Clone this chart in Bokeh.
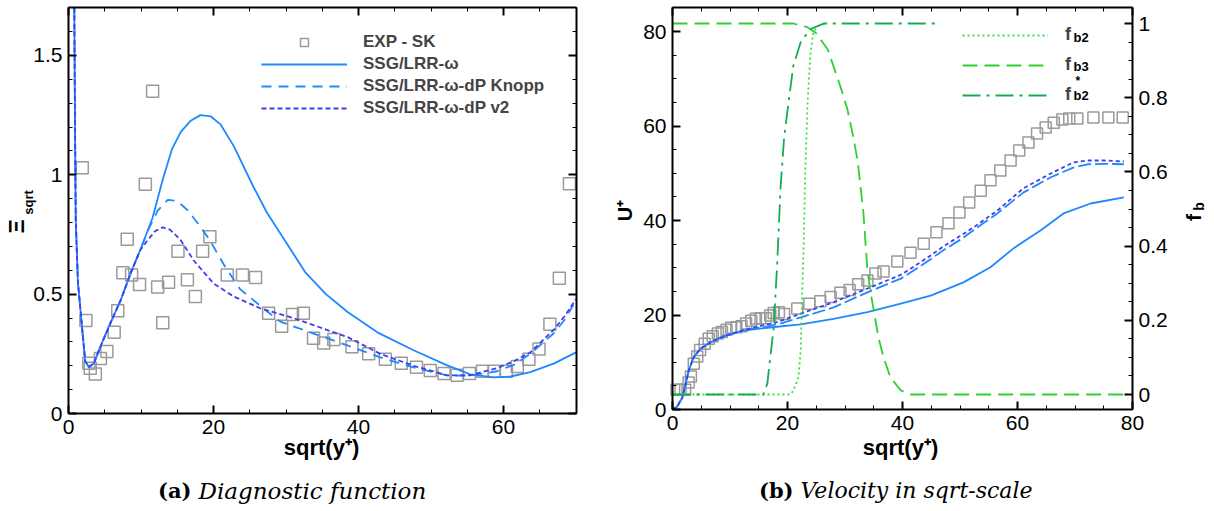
import math
from bokeh.plotting import figure
from bokeh.models import Range1d, LinearAxis, Legend, LegendItem, Label, FixedTicker
from bokeh.layouts import row
from bokeh.embed import file_html
from bokeh.resources import INLINE

# ---------------- (a) Diagnostic function ----------------
exp_a_x = [1.9, 2.4, 2.8, 3.0, 3.7, 4.4, 5.3, 6.3, 6.8, 7.5, 8.1, 8.7, 9.8, 10.6, 11.6, 12.3, 13.0, 13.8,
           15.1, 16.4, 17.5, 18.5, 19.5, 21.9, 24.0, 25.8, 27.6, 29.4, 30.9, 32.4, 33.8, 35.2, 36.6, 39.1,
           41.4, 43.7, 45.9, 48.0, 49.9, 51.8, 53.6, 55.3, 57.1, 58.7, 60.4, 61.9, 63.5, 64.9, 66.4, 67.7, 69.1]
exp_a_y = [1.03, 0.39, 0.21, 0.19, 0.165, 0.23, 0.26, 0.34, 0.43, 0.59, 0.73, 0.58, 0.54, 0.96, 1.35, 0.53,
           0.38, 0.55, 0.68, 0.56, 0.49, 0.68, 0.74, 0.58, 0.58, 0.57, 0.42, 0.365, 0.415, 0.42, 0.315, 0.295,
           0.31, 0.28, 0.25, 0.227, 0.21, 0.194, 0.18, 0.168, 0.16, 0.168, 0.177, 0.177, 0.177, 0.197, 0.227,
           0.27, 0.374, 0.567, 0.962]

ssg_a_x = [0.8, 0.9, 1.0, 1.3, 1.9, 2.3, 2.8, 3.5, 4.4, 5.8, 7.2, 8.6, 9.9, 11.6, 13.0, 14.3, 15.5, 16.8,
           18.2, 19.6, 21.0, 22.8, 25.5, 27.4, 29.2, 32.7, 35.5, 38.5, 42.6, 47.6, 52.0, 55.4, 58.6, 61.0,
           63.7, 67.0, 70.0]
ssg_a_y = [1.70, 1.2, 0.81, 0.55, 0.35, 0.22, 0.195, 0.21, 0.28, 0.38, 0.475, 0.59, 0.685, 0.82, 0.98, 1.11,
           1.18, 1.225, 1.25, 1.245, 1.21, 1.12, 0.95, 0.84, 0.755, 0.59, 0.50, 0.425, 0.34, 0.265, 0.205,
           0.164, 0.151, 0.155, 0.173, 0.21, 0.256]

knopp_a_x = [0.8, 0.9, 1.0, 1.3, 1.9, 2.3, 2.8, 3.5, 4.4, 5.8, 7.2, 8.6, 9.9, 11.0, 12.3, 13.7, 15.0, 16.5,
             18.0, 19.4, 21.5, 23.7, 25.5, 27.5, 29.2, 31.5, 33.8, 38.5, 43.0, 47.6, 52.2, 55.4, 59.1, 61.5,
             63.7, 66.9, 68.5, 70.0]
knopp_a_y = [1.70, 1.2, 0.81, 0.55, 0.35, 0.22, 0.195, 0.21, 0.28, 0.38, 0.475, 0.59, 0.685, 0.77, 0.85,
             0.895, 0.89, 0.85, 0.79, 0.73, 0.62, 0.52, 0.475, 0.425, 0.385, 0.36, 0.335, 0.285, 0.235, 0.193,
             0.16, 0.158, 0.177, 0.205, 0.25, 0.335, 0.395, 0.475]

v2_a_x = [0.8, 0.9, 1.0, 1.3, 1.9, 2.3, 2.8, 3.5, 4.4, 5.8, 7.2, 8.6, 9.9, 11.0, 12.0, 13.0, 14.0, 15.4,
          17.3, 20.0, 22.8, 26.5, 31.0, 33.8, 38.5, 43.0, 47.6, 52.2, 55.4, 59.1, 61.5, 63.7, 66.9, 68.5, 70.0]
v2_a_y = [1.70, 1.2, 0.81, 0.55, 0.35, 0.22, 0.195, 0.21, 0.28, 0.38, 0.475, 0.59, 0.685, 0.73, 0.765, 0.78,
          0.77, 0.73, 0.64, 0.545, 0.49, 0.44, 0.40, 0.37, 0.32, 0.25, 0.2, 0.16, 0.16, 0.19, 0.22, 0.256,
          0.35, 0.41, 0.48]

legend_a = ["EXP - SK", "SSG/LRR-\u03c9", "SSG/LRR-\u03c9-dP Knopp", "SSG/LRR-\u03c9-dP v2"]

# ---------------- (b) Velocity in sqrt-scale ----------------
exp_b_x = [0.7, 1.4, 2.2, 2.8, 3.2, 3.7, 4.3, 4.8, 5.6, 6.3, 7.0, 7.9, 8.6, 9.4, 10.2, 11.1, 12.0, 12.8,
           13.7, 14.5, 15.3, 16.2, 17.0, 17.6, 18.5, 19.4, 21.7, 23.8, 25.7, 27.5, 29.2, 30.8, 32.3, 33.9,
           35.3, 36.7, 39.1, 41.4, 43.7, 45.9, 48.0, 49.9, 51.6, 53.6, 55.3, 57.0, 58.8, 60.3, 61.9, 63.4,
           64.9, 66.3, 67.8, 69.0, 70.4, 73.2, 75.8, 78.3]
exp_b_u = [4.2, 4.2, 4.2, 5.7, 7.0, 9.7, 11.2, 12.6, 13.9, 15.0, 15.5, 16.1, 16.4, 16.9, 17.3, 17.4, 17.6,
           18.2, 18.8, 19.2, 19.3, 19.3, 19.9, 20.4, 20.6, 20.2, 21.4, 22.4, 22.9, 23.8, 24.7, 25.3, 26.5,
           27.3, 28.8, 29.2, 31.3, 33.2, 35.1, 37.5, 39.4, 41.7, 43.8, 46.3, 48.5, 50.6, 52.7, 54.8, 56.5,
           58.4, 59.7, 60.7, 61.4, 61.6, 61.6, 61.8, 61.8, 61.8]

ssg_b_x = [0, 0.8, 1.7, 2.3, 2.8, 3.7, 4.9, 6.6, 8.9, 12.3, 16.5, 22.3, 28.0, 33.9, 39.7, 44.9, 50.6, 55.3,
           59.3, 64.0, 68.0, 72.7, 78.5]
ssg_b_u = [0, 0.6, 2.5, 5.5, 8.2, 11.1, 12.9, 14.2, 15.5, 16.7, 17.3, 18.0, 19.2, 20.6, 22.4, 24.1, 26.9,
           30.1, 34.1, 37.9, 41.5, 43.6, 44.9]

knopp_b_x = [0, 0.8, 1.7, 2.3, 2.8, 3.7, 4.9, 6.6, 8.9, 12.3, 16.5, 19.0, 22.3, 28.0, 33.9, 39.7, 41.4,
             44.3, 47.1, 50.0, 52.3, 56.5, 61.0, 65.7, 69.7, 72.2, 75.0, 78.5]
knopp_b_u = [0, 0.6, 2.5, 5.5, 8.2, 11.1, 12.9, 14.2, 15.5, 16.7, 17.6, 18.3, 19.5, 21.6, 24.8, 27.7, 29.0,
             31.3, 33.7, 35.9, 37.9, 41.5, 45.9, 49.1, 51.2, 51.9, 52.0, 51.9]

v2_b_x = [0, 0.8, 1.7, 2.3, 2.8, 3.7, 4.9, 6.6, 8.9, 12.3, 15.0, 18.2, 22.3, 28.0, 33.9, 39.7, 41.4, 44.3,
          47.1, 50.0, 52.3, 56.5, 61.0, 65.7, 69.7, 72.2, 75.0, 78.5]
v2_b_u = [0, 0.6, 2.5, 5.5, 8.2, 11.1, 12.9, 14.2, 15.5, 16.8, 17.6, 18.5, 20.3, 22.7, 25.6, 28.5, 29.8,
          32.1, 34.5, 36.7, 38.5, 42.1, 46.8, 49.9, 52.3, 52.7, 52.7, 52.5]

fb2_x = [0, 20.5, 21.0, 21.9, 22.3, 22.6, 22.8, 23.1, 23.5, 24.0, 24.5, 25.5, 27.0]
fb2_y = [0, 0, 0.01, 0.046, 0.12, 0.3, 0.4, 0.61, 0.79, 0.92, 0.978, 0.995, 1.0]

fb3_x = [0, 20.0, 21.0, 23.5, 24.9, 27.0, 28.0, 29.2, 30.4, 31.3, 32.2, 32.7, 33.2, 33.6, 33.9, 34.4, 35.0,
         35.8, 36.7, 37.9, 39.7, 41.4, 78.5]
fb3_y = [1, 1, 1.0, 0.99, 0.975, 0.93, 0.885, 0.83, 0.77, 0.705, 0.63, 0.56, 0.49, 0.40, 0.335, 0.28, 0.227,
         0.155, 0.10, 0.046, 0.011, 0.0, 0.0]

# visible part of f_b2* (it disappears behind the legend near x = 46)
fb2s_x = [0, 15.8, 16.5, 17.0, 17.6, 18.2, 18.8, 19.4, 20.2, 21.0, 22.3, 24.0, 26.3, 45.7]
fb2s_y = [0, 0, 0.03, 0.1, 0.18, 0.35, 0.56, 0.69, 0.79, 0.885, 0.95, 0.985, 1.0, 1.0]

# tick values
xa_ticks = [0, 20, 40, 60]
ya_ticks = [0, 0.5, 1, 1.5]
ya_labels = ["0", "0.5", "1", "1.5"]
xb_ticks = [0, 20, 40, 60, 80]
ub_ticks = [0, 20, 40, 60, 80]
fb_ticks = [0, 0.2, 0.4, 0.6, 0.8, 1.0]
fb_labels = ["0", "0.2", "0.4", "0.6", "0.8", "1"]

# ---------------- styling ----------------
SANS = "Liberation Sans"
SERIF = "DejaVu Serif"
BLUE = "#1E88FF"
VIOLET = "#3F3FEF"
GRAY = "#9A9A9A"
G_DOT = "#3ADF3A"
G_DASH = "#2ED12E"
G_DD = "#12AD55"
H = 508
W1, W2 = 612, 600

# page-pixel <-> data helpers (plot box geometry of the reference)
ax_ = lambda px: (px - 68) / 7.25
ay_ = lambda py: (413 - py) / 238.7
bx_ = lambda px: (px - 672) / 5.75
by_ = lambda py: (409 - py) / 4.725
bf_ = lambda py: (394 - py) / 371.0

XA_MAX, YA_MAX = 70, ay_(7)
XB_MAX, UB_MAX = 80, by_(7)


def make_fig(width, xr, yr):
    p = figure(width=width, height=H, x_range=Range1d(*xr), y_range=Range1d(*yr),
               output_backend="svg", toolbar_location=None, min_border=0,
               min_border_left=0, min_border_right=0, min_border_bottom=0, min_border_top=0)
    p.xaxis.visible = False
    p.yaxis.visible = False
    p.xgrid.visible = False
    p.ygrid.visible = False
    p.outline_line_color = None
    p.background_fill_color = "white"
    p.border_fill_color = "white"
    return p


def add_axis(p, side, ticker, loc, bounds, labels=True, overrides=None, yr="default"):
    ax = LinearAxis(ticker=ticker, fixed_location=loc, bounds=bounds, y_range_name=yr)
    ax.major_tick_in = 8
    ax.major_tick_out = 0
    ax.minor_tick_in = 4
    ax.minor_tick_out = 0
    ax.axis_line_color = "black"
    ax.axis_line_width = 2
    ax.major_tick_line_width = 2
    ax.minor_tick_line_width = 1
    ax.major_tick_line_color = "black"
    ax.minor_tick_line_color = "black"
    ax.major_label_text_font = SANS
    ax.major_label_text_color = "black"
    ax.major_label_text_font_size = "21px"
    ax.major_label_standoff = 6
    if not labels:
        ax.major_label_text_alpha = 0.0
        ax.major_label_overrides = {t: "" for t in ticker.ticks}
    elif overrides:
        ax.major_label_overrides = overrides
    p.add_layout(ax, side)
    return ax


def lab(p, x, y, text, size, fstyle="bold", angle=0.0, align="center", baseline="middle",
        font=SANS, yr="default"):
    p.add_layout(Label(x=x, y=y, text=text, text_font=font, text_font_size=f"{size}px",
                       text_font_style=fstyle, angle=angle, text_align=align,
                       text_baseline=baseline, text_color="black", y_range_name=yr))


def minor(start, stop, step):
    n = int(round((stop - start) / step))
    return [round(start + i * step, 4) for i in range(n + 1)]


# ================= figure (a) =================
p1 = make_fig(W1, (ax_(0), ax_(W1)), (ay_(H), ay_(0)))
add_axis(p1, "below", FixedTicker(ticks=xa_ticks, minor_ticks=minor(0, 70, 5)), 0, (0, XA_MAX))
add_axis(p1, "above", FixedTicker(ticks=xa_ticks, minor_ticks=minor(0, 70, 5)), YA_MAX, (0, XA_MAX),
         labels=False)
add_axis(p1, "left", FixedTicker(ticks=ya_ticks, minor_ticks=minor(0, 1.7, 0.1)), 0, (0, YA_MAX),
         overrides={t: s for t, s in zip(ya_ticks, ya_labels)})
add_axis(p1, "right", FixedTicker(ticks=ya_ticks, minor_ticks=minor(0, 1.7, 0.1)), XA_MAX, (0, YA_MAX),
         labels=False)

r_exp = p1.scatter(exp_a_x, exp_a_y, marker="square", size=12, fill_color=None,
                   line_color=GRAY, line_width=1.5)
r_ssg = p1.line(ssg_a_x, ssg_a_y, line_color=BLUE, line_width=1.8)
r_kn = p1.line(knopp_a_x, knopp_a_y, line_color=BLUE, line_width=1.8, line_dash="10 7")
r_v2 = p1.line(v2_a_x, v2_a_y, line_color=VIOLET, line_width=1.8, line_dash="5 3")

leg1 = Legend(items=[LegendItem(label=legend_a[0], renderers=[r_exp]),
                     LegendItem(label=legend_a[1], renderers=[r_ssg]),
                     LegendItem(label=legend_a[2], renderers=[r_kn]),
                     LegendItem(label=legend_a[3], renderers=[r_v2])],
              location=(261, H - 118), padding=4, margin=0, spacing=2,
              glyph_width=86, glyph_height=20, label_height=20, label_standoff=16,
              label_text_font=SANS, label_text_font_style="bold", label_text_font_size="17px",
              border_line_color=None, background_fill_color="white", background_fill_alpha=1.0)
p1.add_layout(leg1)

lab(p1, ax_(321), ay_(447), "sqrt(y\u207a)", 22)
lab(p1, ax_(16), ay_(226), "\u039e", 22, angle=math.pi / 2)
lab(p1, ax_(28), ay_(202), "sqrt", 13, angle=math.pi / 2)
lab(p1, ax_(191), ay_(490), "(a)", 21, fstyle="bold", align="right", font=SERIF)
lab(p1, ax_(198), ay_(490), "Diagnostic function", 23, fstyle="italic", align="left", font=SERIF)

# ================= figure (b) =================
p2 = make_fig(W2, (bx_(W1), bx_(W1 + W2)), (by_(H), by_(0)))
p2.extra_y_ranges = {"fb": Range1d(bf_(H), bf_(0))}
add_axis(p2, "below", FixedTicker(ticks=xb_ticks, minor_ticks=minor(0, 80, 5)), 0, (0, XB_MAX))
add_axis(p2, "above", FixedTicker(ticks=xb_ticks, minor_ticks=minor(0, 80, 5)), UB_MAX, (0, XB_MAX),
         labels=False)
add_axis(p2, "left", FixedTicker(ticks=ub_ticks, minor_ticks=minor(0, 85, 5)), 0, (0, UB_MAX))
add_axis(p2, "right", FixedTicker(ticks=fb_ticks, minor_ticks=minor(0, 1.0, 0.05)), XB_MAX,
         (bf_(409), bf_(7)), overrides={t: s for t, s in zip(fb_ticks, fb_labels)}, yr="fb")

p2.scatter(exp_b_x, exp_b_u, marker="square", size=11, fill_color=None, line_color=GRAY, line_width=1.5)
p2.line(ssg_b_x, ssg_b_u, line_color=BLUE, line_width=1.8)
p2.line(knopp_b_x, knopp_b_u, line_color=BLUE, line_width=1.8, line_dash="13 4")
p2.line(v2_b_x, v2_b_u, line_color=VIOLET, line_width=1.8, line_dash="4 3")
g1 = p2.line(fb2_x, fb2_y, y_range_name="fb", line_color=G_DOT, line_width=1.8, line_dash="2 3")
g2 = p2.line(fb3_x, fb3_y, y_range_name="fb", line_color=G_DASH, line_width=1.8, line_dash="15 7")
g3 = p2.line(fb2s_x, fb2s_y, y_range_name="fb", line_color=G_DD, line_width=1.8, line_dash="18 6 3 6")

leg2 = Legend(items=[LegendItem(label="f", renderers=[g1]),
                     LegendItem(label="f", renderers=[g2]),
                     LegendItem(label="f", renderers=[g3])],
              location=(962 - W1, H - 105), padding=6, margin=0, spacing=9,
              glyph_width=86, glyph_height=20, label_height=20, label_standoff=17,
              label_text_font=SANS, label_text_font_style="bold", label_text_font_size="18px",
              border_line_color=None, background_fill_alpha=0.0)
p2.add_layout(leg2)

lab(p2, bx_(1073), by_(37), "b2", 13, align="left")
lab(p2, bx_(1073), by_(66), "b3", 13, align="left")
lab(p2, bx_(1073), by_(95), "b2", 13, align="left")
lab(p2, bx_(1075), by_(80), "*", 12, align="left")

lab(p2, bx_(900), by_(447), "sqrt(y\u207a)", 22)
lab(p2, bx_(624), by_(210), "U\u207a", 20, angle=math.pi / 2)
lab(p2, bx_(1193), by_(217), "f", 21, angle=math.pi / 2)
lab(p2, bx_(1198), by_(206), "b", 14, angle=math.pi / 2)
lab(p2, bx_(793), by_(490), "(b)", 21, fstyle="bold", align="right", font=SERIF)
lab(p2, bx_(800), by_(490), "Velocity in sqrt-scale", 22, fstyle="italic", align="left", font=SERIF)

layout = row(p1, p2)
open("out.html", "w").write(file_html(layout, INLINE))
